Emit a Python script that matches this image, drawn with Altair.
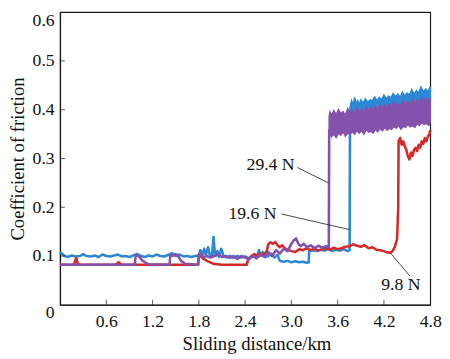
import altair as alt
import pandas as pd

FONT = "Liberation Serif"
W, H = 377, 298

BLUE = "#2c88d4"
RED = "#d42a2a"
PURPLE = "#8452ad"

x_ticks = [0, 0.6, 1.2, 1.8, 2.4, 3.0, 3.6, 4.2, 4.8]
y_ticks = [0, 0.1, 0.2, 0.3, 0.4, 0.5, 0.6]
x_inner = [0.6, 1.2, 1.8, 2.4, 3.0, 3.6, 4.2]
y_inner = [0.1, 0.2, 0.3, 0.4, 0.5]

# 19.6 N (blue) - line up to the jump
blue_x = [0.0, 0.03, 0.06, 0.1, 0.15,
          0.2, 0.26, 0.3, 0.34, 0.4,
          0.45, 0.5, 0.55, 0.6, 0.65,
          0.7, 0.75, 0.8, 0.85, 0.9,
          0.95, 1.0, 1.05, 1.1, 1.15,
          1.2, 1.25, 1.3, 1.35, 1.4,
          1.45, 1.5, 1.55, 1.6, 1.65,
          1.7, 1.75, 1.8, 1.82, 1.84,
          1.87, 1.89, 1.92, 1.94, 1.97,
          1.99, 2.01, 2.04, 2.06, 2.09,
          2.12, 2.16, 2.2, 2.25, 2.3,
          2.35, 2.4, 2.45, 2.5, 2.55,
          2.58, 2.6, 2.63, 2.66, 2.7,
          2.74, 2.78, 2.82, 2.85, 2.9,
          2.95, 3.0, 3.05, 3.1, 3.15,
          3.2, 3.225, 3.23, 3.28, 3.33,
          3.38, 3.43, 3.48, 3.53, 3.58,
          3.63, 3.68, 3.73, 3.755, 3.76]
blue_y = [0.108, 0.104, 0.100, 0.098, 0.101,
          0.099, 0.100, 0.104, 0.100, 0.099,
          0.101, 0.098, 0.103, 0.100, 0.099,
          0.101, 0.103, 0.099, 0.100, 0.098,
          0.101, 0.104, 0.100, 0.098, 0.101,
          0.099, 0.103, 0.100, 0.099, 0.102,
          0.106, 0.100, 0.103, 0.099, 0.100,
          0.098, 0.100, 0.101, 0.112, 0.100,
          0.115, 0.102, 0.118, 0.103, 0.100,
          0.139, 0.100, 0.110, 0.098, 0.115,
          0.100, 0.097, 0.100, 0.096, 0.100,
          0.097, 0.099, 0.095, 0.100, 0.097,
          0.112, 0.100, 0.108, 0.098, 0.100,
          0.105, 0.097, 0.102, 0.090, 0.088,
          0.090, 0.087, 0.089, 0.087, 0.088,
          0.086, 0.087, 0.110, 0.112, 0.110,
          0.113, 0.111, 0.114, 0.110, 0.113,
          0.111, 0.114, 0.110, 0.112, 0.400]
# 19.6 N (blue) - noisy band after the jump (low / high envelope)
blue_band_x = [3.76, 3.78, 3.80, 3.82, 3.84,
               3.86, 3.88, 3.90, 3.93, 3.96,
               3.99, 4.02, 4.05, 4.08, 4.11,
               4.14, 4.17, 4.20, 4.23, 4.26,
               4.29, 4.32, 4.35, 4.38, 4.41,
               4.44, 4.47, 4.50, 4.53, 4.56,
               4.59, 4.62, 4.65, 4.68, 4.71,
               4.74, 4.77, 4.80]
blue_band_hi = [0.405, 0.418, 0.410, 0.425, 0.412,
                0.418, 0.410, 0.420, 0.414, 0.422,
                0.415, 0.420, 0.418, 0.426, 0.418,
                0.425, 0.420, 0.430, 0.422, 0.428,
                0.424, 0.433, 0.426, 0.432, 0.425,
                0.436, 0.428, 0.434, 0.430, 0.441,
                0.432, 0.439, 0.434, 0.446, 0.436,
                0.442, 0.437, 0.446]
blue_band_lo = [0.395, 0.398, 0.396, 0.400, 0.398,
                0.400, 0.399, 0.402, 0.400, 0.403,
                0.402, 0.404, 0.403, 0.406, 0.405,
                0.407, 0.406, 0.409, 0.408, 0.410,
                0.410, 0.412, 0.411, 0.413, 0.412,
                0.415, 0.414, 0.416, 0.415, 0.418,
                0.417, 0.419, 0.418, 0.421, 0.420,
                0.422, 0.421, 0.423]

# 9.8 N (red)
red_x = [0.0, 0.18, 0.21, 0.23, 0.26,
         0.72, 0.76, 0.80, 1.79, 1.80,
         1.82, 1.86, 1.92, 1.99, 2.1,
         2.42, 2.44, 2.48, 2.52, 2.56,
         2.6, 2.64, 2.68, 2.70, 2.73,
         2.76, 2.79, 2.82, 2.85, 2.88,
         2.92, 2.96, 3.0, 3.05, 3.1,
         3.15, 3.2, 3.25, 3.3, 3.35,
         3.4, 3.45, 3.5, 3.55, 3.6,
         3.65, 3.7, 3.75, 3.8, 3.85,
         3.9, 3.95, 4.0, 4.05, 4.1,
         4.15, 4.2, 4.25, 4.29, 4.31,
         4.34, 4.37, 4.385, 4.39, 4.41,
         4.43, 4.45, 4.47, 4.49, 4.51,
         4.53, 4.55, 4.57, 4.59, 4.61,
         4.63, 4.65, 4.67, 4.69, 4.71,
         4.73, 4.75, 4.77, 4.79, 4.80]
red_y = [0.082, 0.082, 0.096, 0.084, 0.082,
         0.082, 0.087, 0.082, 0.082, 0.103,
         0.100, 0.094, 0.089, 0.084, 0.082,
         0.082, 0.093, 0.100, 0.104, 0.100,
         0.105, 0.102, 0.110, 0.124, 0.128,
         0.125, 0.129, 0.122, 0.118, 0.122,
         0.115, 0.112, 0.110, 0.108, 0.114,
         0.112, 0.116, 0.112, 0.115, 0.111,
         0.114, 0.116, 0.113, 0.117, 0.114,
         0.116, 0.119, 0.120, 0.124, 0.121,
         0.119, 0.122, 0.116, 0.118, 0.113,
         0.112, 0.110, 0.107, 0.107, 0.110,
         0.118, 0.135, 0.200, 0.335, 0.342,
         0.328, 0.335, 0.325, 0.318, 0.305,
         0.298, 0.312, 0.305, 0.318, 0.322,
         0.315, 0.328, 0.322, 0.335, 0.330,
         0.342, 0.335, 0.345, 0.350, 0.358]

# 29.4 N (purple) - line up to the jump
purple_x = [0.0, 0.97, 0.98, 1.0, 1.03,
            1.06, 1.1, 1.15, 1.42, 1.43,
            1.46, 1.5, 1.53, 1.57, 1.62,
            1.79, 1.80, 1.83, 1.86, 1.9,
            1.95, 2.0, 2.05, 2.1, 2.15,
            2.2, 2.25, 2.3, 2.35, 2.4,
            2.45, 2.5, 2.55, 2.6, 2.65,
            2.7, 2.75, 2.8, 2.85, 2.9,
            2.95, 3.0, 3.03, 3.06, 3.09,
            3.12, 3.16, 3.2, 3.25, 3.3,
            3.35, 3.4, 3.45, 3.485, 3.49]
purple_y = [0.082, 0.082, 0.100, 0.102, 0.098,
            0.092, 0.087, 0.083, 0.082, 0.103,
            0.100, 0.104, 0.100, 0.090, 0.084,
            0.082, 0.100, 0.104, 0.097, 0.100,
            0.097, 0.100, 0.103, 0.098, 0.100,
            0.096, 0.100, 0.094, 0.100, 0.097,
            0.093, 0.100, 0.095, 0.103, 0.098,
            0.108, 0.100, 0.112, 0.105, 0.115,
            0.110, 0.125, 0.132, 0.136, 0.125,
            0.120, 0.125, 0.118, 0.122, 0.116,
            0.121, 0.117, 0.120, 0.118, 0.360]
# 29.4 N (purple) - noisy band after the jump (low / high envelope)
purple_band_x = [3.49, 3.50, 3.52, 3.55, 3.58,
                 3.61, 3.64, 3.67, 3.70, 3.73,
                 3.76, 3.79, 3.82, 3.85, 3.88,
                 3.91, 3.94, 3.97, 4.00, 4.03,
                 4.06, 4.09, 4.12, 4.15, 4.18,
                 4.21, 4.24, 4.27, 4.30, 4.33,
                 4.36, 4.39, 4.42, 4.45, 4.48,
                 4.51, 4.54, 4.57, 4.60, 4.63,
                 4.66, 4.69, 4.72, 4.75, 4.78,
                 4.80]
purple_band_hi = [0.385, 0.395, 0.388, 0.398, 0.390,
                  0.400, 0.392, 0.396, 0.388, 0.402,
                  0.392, 0.398, 0.394, 0.403, 0.395,
                  0.400, 0.396, 0.405, 0.398, 0.404,
                  0.400, 0.407, 0.400, 0.409, 0.403,
                  0.410, 0.404, 0.412, 0.406, 0.415,
                  0.408, 0.412, 0.408, 0.418, 0.410,
                  0.416, 0.412, 0.420, 0.413, 0.419,
                  0.415, 0.425, 0.416, 0.423, 0.418,
                  0.422]
purple_band_lo = [0.350, 0.352, 0.345, 0.350, 0.343,
                  0.352, 0.348, 0.355, 0.346, 0.352,
                  0.350, 0.356, 0.350, 0.358, 0.352,
                  0.357, 0.350, 0.360, 0.354, 0.356,
                  0.352, 0.360, 0.355, 0.362, 0.357,
                  0.364, 0.358, 0.362, 0.360, 0.366,
                  0.362, 0.368, 0.360, 0.366, 0.364,
                  0.370, 0.365, 0.368, 0.364, 0.372,
                  0.368, 0.374, 0.370, 0.372, 0.368,
                  0.375]

# annotations
label_text = ["29.4 N", "19.6 N", "9.8 N"]
label_x = [2.73, 2.495, 4.42]
label_y = [0.2855, 0.186, 0.041]
leader_x = [3.077, 2.874, 4.282]
leader_y = [0.2815, 0.186, 0.1066]
leader_x2 = [3.483, 3.750, 4.536]
leader_y2 = [0.2497, 0.1543, 0.0590]

xs = alt.Scale(domain=[0, 4.8], nice=False, zero=False)
ys = alt.Scale(domain=[0, 0.6], nice=False, zero=False)

x_axis = alt.Axis(
    values=x_ticks, ticks=False, grid=False,
    labelExpr="datum.value == 0 ? '' : format(datum.value, '.1f')",
    labelFont=FONT, labelFontSize=18, labelColor="#111", labelPadding=8,
    labelFlush=False, labelOverlap=False,
    domainColor="#1a1a1a", domainWidth=1.2,
    title="Sliding distance/km", titleFont=FONT, titleFontSize=19,
    titleFontWeight="normal", titleColor="#111",
    titleX=200, titleY=46, titleBaseline="alphabetic", titleAlign="center",
)
y_axis = alt.Axis(
    values=y_ticks, ticks=False, grid=False,
    labelExpr="datum.value == 0 ? '0' : format(datum.value, '.1f')",
    labelFont=FONT, labelFontSize=18, labelColor="#111", labelPadding=6,
    labelFlush=False, labelOverlap=False,
    labelOffset={"condition": {"test": "datum.value == 0", "value": 8}, "value": 0},
    labelBaseline={"condition": {"test": "datum.value >= 0.59", "value": "top"}, "value": "middle"},
    domainColor="#1a1a1a", domainWidth=1.2,
    title="Coefficient of friction", titleFont=FONT, titleFontSize=19,
    titleFontWeight="normal", titleColor="#111",
    titleX=-37, titleY=H / 2, titleBaseline="alphabetic", titleAlign="center",
    titleAngle=270,
)


def series_df(xv, yv):
    df = pd.DataFrame({"x": xv, "y": yv})
    df["i"] = range(len(df))
    return df


def line_layer(df, color):
    return alt.Chart(df).mark_line(color=color, strokeWidth=2.6, strokeJoin="round").encode(
        x=alt.X("x:Q", scale=xs, axis=x_axis),
        y=alt.Y("y:Q", scale=ys, axis=y_axis),
        order=alt.Order("i:Q"),
    )


def band_layer(xv, lo, hi, color):
    df = pd.DataFrame({"x": xv, "y": lo, "y2": hi})
    return alt.Chart(df).mark_area(color=color, opacity=1, stroke=color, strokeWidth=1.6).encode(
        x=alt.X("x:Q", scale=xs, axis=x_axis),
        y=alt.Y("y:Q", scale=ys, axis=y_axis),
        y2="y2:Q",
    )


blue = line_layer(series_df(blue_x, blue_y), BLUE)
blue_band = band_layer(blue_band_x, blue_band_lo, blue_band_hi, BLUE)
red = line_layer(series_df(red_x, red_y), RED)
purple = line_layer(series_df(purple_x, purple_y), PURPLE)
purple_band = band_layer(purple_band_x, purple_band_lo, purple_band_hi, PURPLE)

leaders = alt.Chart(pd.DataFrame({"x": leader_x, "y": leader_y, "x2": leader_x2, "y2": leader_y2})).mark_rule(
    color="#333", strokeWidth=0.9
).encode(
    x=alt.X("x:Q", scale=xs, axis=x_axis), y=alt.Y("y:Q", scale=ys, axis=y_axis),
    x2="x2:Q", y2="y2:Q",
)

labels = alt.Chart(pd.DataFrame({"x": label_x, "y": label_y, "t": label_text})).mark_text(
    font=FONT, fontSize=18, color="#111", align="center", baseline="middle"
).encode(
    x=alt.X("x:Q", scale=xs, axis=x_axis), y=alt.Y("y:Q", scale=ys, axis=y_axis), text="t:N",
)

xt = alt.Chart(pd.DataFrame({"x": x_inner})).mark_tick(
    orient="vertical", size=5, thickness=1, color="#1a1a1a"
).encode(x=alt.X("x:Q", scale=xs, axis=x_axis), y=alt.value(H - 2.5))

yt = alt.Chart(pd.DataFrame({"y": y_inner})).mark_tick(
    orient="horizontal", size=5, thickness=1, color="#1a1a1a"
).encode(y=alt.Y("y:Q", scale=ys, axis=y_axis), x=alt.value(2.5))

chart = alt.layer(blue, blue_band, red, purple, purple_band, leaders, labels, xt, yt).properties(
    width=W, height=H,
    padding={"left": 53, "top": 1, "right": 12, "bottom": 52},
    autosize=alt.AutoSizeParams(type="none"),
    background="white",
).configure_view(stroke="#1a1a1a", strokeWidth=1.2)

chart.save("out.html", embed_options={"renderer": "svg", "actions": False})
